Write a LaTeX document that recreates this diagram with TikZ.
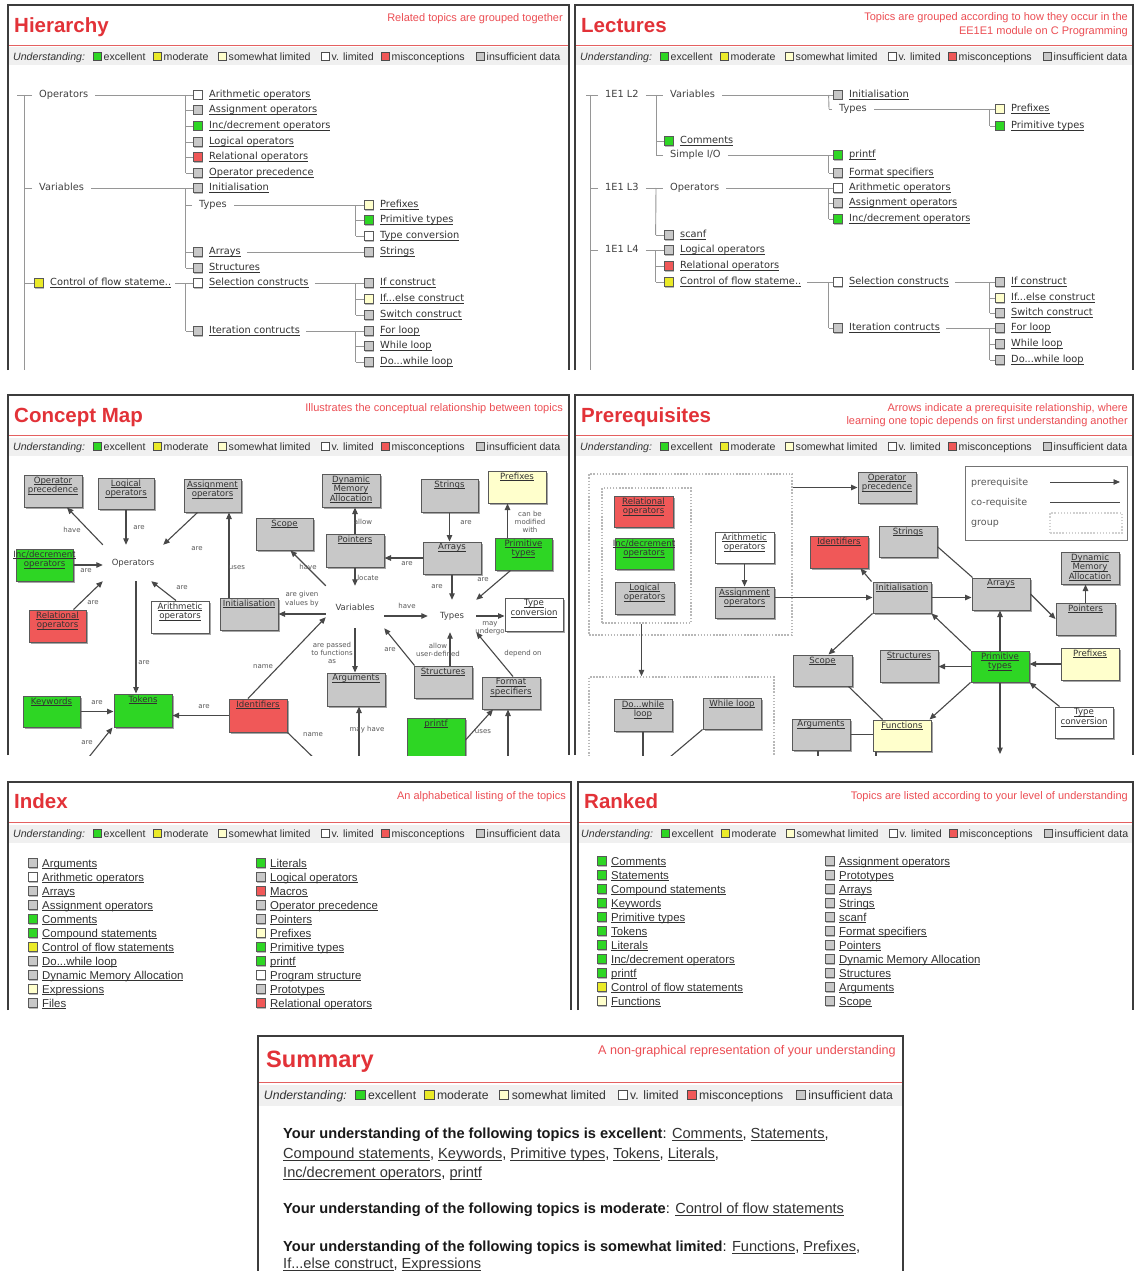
\documentclass[tikz,border=0pt]{standalone}
\usepackage{fontspec}
\setmainfont{Liberation Sans}
\newfontfamily\dvfont{DejaVu Sans}
\usetikzlibrary{arrows.meta,fit}

\definecolor{cgreen}{RGB}{46,214,36}
\definecolor{cyellow}{RGB}{234,234,40}
\definecolor{clight}{RGB}{255,255,204}
\definecolor{cred}{RGB}{240,88,88}
\definecolor{cgray}{RGB}{200,200,200}
\definecolor{titlec}{RGB}{226,50,56}
\definecolor{subc}{RGB}{236,78,84}
\definecolor{rulec}{RGB}{228,96,96}
\definecolor{bandc}{RGB}{240,240,240}
\definecolor{framec}{RGB}{60,60,60}
\definecolor{linkc}{RGB}{50,50,50}
\definecolor{treec}{RGB}{150,150,150}
\definecolor{edgec}{RGB}{72,72,72}

% underlined link text
\newcommand\lk[1]{{\leavevmode\setbox0\hbox{#1}\rlap{\rule[-0.17em]{\wd0}{0.06em}}\box0}}
\newcommand\slk[1]{{\color{linkc}\lk{#1}}}

\tikzset{
  panelline/.style={draw=framec, line width=2pt},
  ttl/.style={anchor=base west, inner sep=0pt, text=titlec, font=\fontsize{20.5}{22}\selectfont\bfseries},
  subt/.style={anchor=base east, inner sep=0pt, text=subc, font=\fontsize{11}{13}\selectfont},
  redrule/.style={draw=rulec, line width=1.6pt},
  lgtext/.style={anchor=base west, inner sep=0pt, text=black!80},
  lgbox/.style={draw=black!70, line width=0.7pt, inner sep=0pt},
  tbox/.style={draw=black!65, line width=0.8pt, inner sep=0pt, minimum size=9pt},
  titem/.style={anchor=base west, inner sep=0pt, text=linkc, text height=7.3pt, text depth=1.7pt, font=\dvfont\fontsize{9.8}{11}\selectfont},
  tword/.style={anchor=base west, inner xsep=7pt, inner ysep=0pt, text=black!75, text height=7.3pt, text depth=1.7pt, font=\dvfont\fontsize{9.8}{11}\selectfont},
  tline/.style={draw=treec, line width=0.9pt},
  litem/.style={anchor=base west, inner sep=0pt, text=linkc, font=\fontsize{11.4}{13}\selectfont},
  cbx/.style={rectangle, draw=black!65, line width=1pt, inner sep=0pt},
  cbl/.style={anchor=north, inner sep=0pt, text=linkc, align=center, font=\dvfont\fontsize{8.6}{9.6}\selectfont},
  cword/.style={inner sep=0pt, text=black!75, font=\dvfont\fontsize{8.5}{10}\selectfont},
  carr/.style={draw=edgec, line width=1.1pt, -{Triangle[length=6.5pt,width=5.5pt]}},
  cline/.style={draw=edgec, line width=1.1pt},
  elab/.style={inner sep=0pt, text=black!65, align=center, font=\dvfont\fontsize{7}{8.2}\selectfont},
  grp/.style={draw=black!28, line width=1.5pt, dash pattern=on 1.5pt off 1.6pt, inner sep=0pt},
  plab/.style={anchor=base west, inner sep=0pt, text=black!65, font=\dvfont\fontsize{9.5}{11}\selectfont},
  sumt/.style={anchor=base west, inner sep=0pt, text=black!90, font=\fontsize{14.6}{17}\selectfont},
}

% frame, red rule and legend band of a panel: left, right, top, bottom, scale
\newcommand\panelframe[5]{%
  \fill[bandc] (#1+1,{#3+42.5*#5}) rectangle (#2-1,{#3+60.5*#5});
  \draw[redrule] (#1+1,{#3+40.5*#5}) -- (#2-1,{#3+40.5*#5});
  \draw[panelline] (#1,#4) -- (#1,#3) -- (#2,#3) -- (#2,#4);
}
% legend row: name prefix, panel left, row, scale, font size
\newcommand\legendrow[5]{%
  \node[lgtext, font=\fontsize{#5}{#5}\selectfont\itshape] (#1u) at ({#2+5*#4},{#3+3.6*#4}) {Understanding:};
  \foreach \bo/\cc/\lab [count=\k] in {85/cgreen/excellent,145/cyellow/moderate,210/clight/somewhat limited,313/white/v. limited,373/cred/misconceptions,468/cgray/insufficient data}{
    \node[lgbox, fill=\cc, minimum size={8pt*#4}] (#1b\k) at ({#2+(\bo+4)*#4},#3) {};
    \node[lgtext, font=\fontsize{#5}{#5}\selectfont] (#1t\k) at ({#2+(\bo+10.5)*#4},{#3+3.6*#4}) {\lab};
  }
}
% tree entry with status box: name, box left, row, fill, label
\newcommand\tbx[5]{%
  \fill[black!28] (#2+1,#3-3.5) rectangle (#2+10,#3+5.5);
  \node[tbox, fill=#4] (#1) at (#2+4.5,#3) {};
  \node[titem] (#1-t) at (#2+16,#3+2.8) {\lk{#5}};
}
\newcommand\trtick[2]{\draw[tline] (#1.west) -- ++(-#2,0);}
% list entry: name, box left, row, fill, label
\newcommand\lsitem[5]{%
  \fill[black!28] (#2+1,#3-3.5) rectangle (#2+10,#3+5.5);
  \node[tbox, fill=#4] (#1) at (#2+4.5,#3) {};
  \node[litem] (#1-t) at (#2+14,#3+4) {\lk{#5}};
}
% concept box: name, x1, y1, x2, y2, fill, label
\newcommand\conbox[7]{%
  \fill[black!35] (#2+1.5,#3+1.5) rectangle (#4+1.5,#5+1.5);
  \path (#2,#3) coordinate (#1-a) (#4,#5) coordinate (#1-b);
  \node[cbx, fill=#6, fit=(#1-a)(#1-b)] (#1) {};
  \node[cbl] (#1-t) at ([yshift=-2pt]#1.north) {#7};
}

\begin{document}
\begin{tikzpicture}[x=1pt,y=-1pt]
\fill[white] (0,0) rectangle (1134,1271);
\useasboundingbox (0,0) rectangle (1134,1271);

%% ================= Hierarchy =================
\panelframe{8}{569}{5}{370}{1}
\node[ttl] (hTitle) at (14,33) {Hierarchy};
\node[subt] (hSub) at (563,22) {Related topics are grouped together};
\legendrow{hLg}{8}{56.5}{1}{10.6}

\node[tword] (hOps) at (32,97.8) {Operators};
\node[tword] (hVar) at (32,190.8) {Variables};
\tbx{hCtl}{34}{283}{cyellow}{Control of flow stateme..}
\draw[tline] (hOps.west) -- ++(-15,0);
\draw[tline] ([xshift=-8pt]hOps.west) -- ++(0,275);
\trtick{hVar}{8}
\trtick{hCtl}{10}

\tbx{hArith}{193}{95}{white}{Arithmetic operators}
\tbx{hAssign}{193}{110}{cgray}{Assignment operators}
\tbx{hInc}{193}{126}{cgreen}{Inc/decrement operators}
\tbx{hLogic}{193}{142}{cgray}{Logical operators}
\tbx{hRel}{193}{157}{cred}{Relational operators}
\tbx{hPrec}{193}{173}{cgray}{Operator precedence}
\draw[tline] (hOps.east) -- (hArith.west);
\draw[tline] ([xshift=-7pt]hArith.west) -- ([xshift=-7pt]hPrec.west);
\foreach \n in {hAssign,hInc,hLogic,hRel,hPrec} {\trtick{\n}{7}}

\tbx{hInit}{193}{188}{cgray}{Initialisation}
\node[tword] (hTypes) at (192,207.8) {Types};
\tbx{hArr}{193}{252}{cgray}{Arrays}
\tbx{hStruct}{193}{268}{cgray}{Structures}
\draw[tline] (hVar.east) -- (hInit.west);
\draw[tline] ([xshift=-7pt]hInit.west) -- ([xshift=-7pt]hStruct.west);
\trtick{hTypes}{6}
\trtick{hArr}{7}
\trtick{hStruct}{7}

\tbx{hPref}{364}{205}{clight}{Prefixes}
\tbx{hPrim}{364}{220}{cgreen}{Primitive types}
\tbx{hTconv}{364}{236}{white}{Type conversion}
\draw[tline] (hTypes.east) -- (hPref.west);
\draw[tline] ([xshift=-8pt]hPref.west) -- ([xshift=-8pt]hTconv.west);
\trtick{hPrim}{8}
\trtick{hTconv}{8}
\tbx{hStr}{364}{252}{cgray}{Strings}
\draw[tline] ([xshift=6pt]hArr-t.east) -- (hStr.west);

\tbx{hSel}{193}{283}{white}{Selection constructs}
\tbx{hIter}{193}{331}{cgray}{Iteration contructs}
\draw[tline] ([xshift=4pt]hCtl-t.east) -- (hSel.west);
\draw[tline] ([xshift=-7pt]hSel.west) -- ([xshift=-7pt]hIter.west);
\trtick{hIter}{7}
\tbx{hIf}{364}{283}{cgray}{If construct}
\tbx{hIfElse}{364}{299}{clight}{If...else construct}
\tbx{hSwitch}{364}{315}{cgray}{Switch construct}
\draw[tline] ([xshift=6pt]hSel-t.east) -- (hIf.west);
\draw[tline] ([xshift=-8pt]hIf.west) -- ([xshift=-8pt]hSwitch.west);
\trtick{hIfElse}{8}
\trtick{hSwitch}{8}
\tbx{hFor}{364}{331}{cgray}{For loop}
\tbx{hWhile}{364}{346}{cgray}{While loop}
\tbx{hDo}{364}{362}{cgray}{Do...while loop}
\draw[tline] ([xshift=6pt]hIter-t.east) -- (hFor.west);
\draw[tline] ([xshift=-8pt]hFor.west) -- ([xshift=-8pt]hDo.west);
\trtick{hWhile}{8}
\trtick{hDo}{8}

%% ================= Lectures =================
\panelframe{575}{1133}{5}{370}{1}
\node[ttl] (lTitle) at (581,33) {Lectures};
\node[subt] (lSub1) at (1128,21) {Topics are grouped according to how they occur in the};
\node[subt] (lSub2) at (1128,35) {EE1E1 module on C Programming};
\legendrow{lLg}{575}{56.5}{1}{10.6}

\node[tword] (lL2) at (598,97.8) {1E1 L2};
\node[tword] (lL3) at (598,190.8) {1E1 L3};
\node[tword] (lL4) at (598,252.8) {1E1 L4};
\draw[tline] (lL2.west) -- ++(-12,0);
\draw[tline] ([xshift=-8pt]lL2.west) -- ++(0,275);
\trtick{lL3}{8}
\trtick{lL4}{8}

\node[tword] (lVar) at (663,97.8) {Variables};
\tbx{lCom}{664}{141}{cgreen}{Comments}
\node[tword] (lSio) at (663,157.8) {Simple I/O};
\draw[tline] (lL2.east) -- (lVar.west);
\draw[tline] ([xshift=-7pt]lVar.west) -- ([xshift=-7pt]lSio.west);
\trtick{lCom}{8}
\trtick{lSio}{7}
\tbx{lInit}{833}{95}{cgray}{Initialisation}
\node[tword] (lTypes) at (832,111.8) {Types};
\draw[tline] (lVar.east) -- (lInit.west);
\draw[tline] ([xshift=-4pt]lInit.west) -- ([xshift=-3pt]lTypes.west);
\trtick{lTypes}{3}
\tbx{lPref}{995}{109}{clight}{Prefixes}
\tbx{lPrim}{995}{126}{cgreen}{Primitive types}
\draw[tline] (lTypes.east) -- (lPref.west);
\draw[tline] ([xshift=-5pt]lPref.west) -- ([xshift=-5pt]lPrim.west);
\trtick{lPrim}{5}
\tbx{lPrintf}{833}{155}{cgreen}{printf}
\tbx{lFmt}{833}{173}{cgray}{Format specifiers}
\draw[tline] (lSio.east) -- (lPrintf.west);
\draw[tline] ([xshift=-4pt]lPrintf.west) -- ([xshift=-4pt]lFmt.west);
\trtick{lFmt}{4}

\node[tword] (lOps) at (663,190.8) {Operators};
\tbx{lScanf}{664}{235}{cgray}{scanf}
\draw[tline] (lL3.east) -- (lOps.west);
\draw[tline] ([xshift=-7pt]lOps.west) -- ([xshift=-8pt]lScanf.west);
\trtick{lScanf}{8}
\tbx{lArith}{833}{188}{white}{Arithmetic operators}
\tbx{lAssign}{833}{203}{cgray}{Assignment operators}
\tbx{lInc}{833}{219}{cgreen}{Inc/decrement operators}
\draw[tline] (lOps.east) -- (lArith.west);
\draw[tline] ([xshift=-4pt]lArith.west) -- ([xshift=-4pt]lInc.west);
\trtick{lAssign}{4}
\trtick{lInc}{4}

\tbx{lLogic}{664}{250}{cgray}{Logical operators}
\tbx{lRel}{664}{266}{cred}{Relational operators}
\tbx{lCtl}{664}{282}{cyellow}{Control of flow stateme..}
\draw[tline] (lL4.east) -- (lLogic.west);
\draw[tline] ([xshift=-8pt]lLogic.west) -- ([xshift=-8pt]lCtl.west);
\trtick{lRel}{8}
\trtick{lCtl}{8}
\tbx{lSel}{833}{282}{white}{Selection constructs}
\tbx{lIter}{833}{328}{cgray}{Iteration contructs}
\draw[tline] ([xshift=6pt]lCtl-t.east) -- (lSel.west);
\draw[tline] ([xshift=-4pt]lSel.west) -- ([xshift=-4pt]lIter.west);
\trtick{lIter}{4}
\tbx{lIf}{995}{282}{cgray}{If construct}
\tbx{lIfElse}{995}{298}{clight}{If...else construct}
\tbx{lSwitch}{995}{313}{cgray}{Switch construct}
\draw[tline] ([xshift=6pt]lSel-t.east) -- (lIf.west);
\draw[tline] ([xshift=-5pt]lIf.west) -- ([xshift=-5pt]lSwitch.west);
\trtick{lIfElse}{5}
\trtick{lSwitch}{5}
\tbx{lFor}{995}{328}{cgray}{For loop}
\tbx{lWhile}{995}{344}{cgray}{While loop}
\tbx{lDo}{995}{360}{cgray}{Do...while loop}
\draw[tline] ([xshift=6pt]lIter-t.east) -- (lFor.west);
\draw[tline] ([xshift=-5pt]lFor.west) -- ([xshift=-5pt]lDo.west);
\trtick{lWhile}{5}
\trtick{lDo}{5}

%% ================= Concept Map =================
\panelframe{8}{569}{395}{755}{1}
\node[ttl] (cTitle) at (14,422.5) {Concept Map};
\node[subt] (cSub) at (563,411) {Illustrates the conceptual relationship between topics};
\legendrow{cLg}{8}{446.5}{1}{10.6}

\begin{scope}
\clip (9,456) rectangle (568,755);
\conbox{cmOpPrec}{24}{475}{82}{507}{cgray}{\lk{Operator}\\\lk{precedence}}
\conbox{cmLogic}{98}{478}{154}{509}{cgray}{\lk{Logical}\\\lk{operators}}
\conbox{cmAssign}{184}{479}{241}{512}{cgray}{\lk{Assignment}\\\lk{operators}}
\conbox{cmScope}{256}{518}{313}{550}{cgray}{\lk{Scope}}
\conbox{cmIncDec}{16}{549}{73}{581}{cgreen}{\lk{Inc/decrement}\\\lk{operators}}
\conbox{cmRel}{29}{610}{86}{642}{cred}{\lk{Relational}\\\lk{operators}}
\conbox{cmArith}{151}{601}{209}{633}{white}{\lk{Arithmetic}\\\lk{operators}}
\conbox{cmInit}{220}{598}{278}{630}{cgray}{\lk{Initialisation}}
\conbox{cmKey}{23}{696}{80}{727}{cgreen}{\lk{Keywords}}
\conbox{cmTok}{114}{694}{172}{727}{cgreen}{\lk{Tokens}}
\conbox{cmIdent}{229}{699}{287}{732}{cred}{\lk{Identifiers}}
\conbox{cmDMA}{322}{474}{380}{507}{cgray}{\lk{Dynamic}\\\lk{Memory}\\\lk{Allocation}}
\conbox{cmStr}{421}{479}{478}{512}{cgray}{\lk{Strings}}
\conbox{cmPref}{488}{471}{546}{503}{clight}{\lk{Prefixes}}
\conbox{cmPtr}{326}{534}{384}{567}{cgray}{\lk{Pointers}}
\conbox{cmArr}{423}{542}{481}{574}{cgray}{\lk{Arrays}}
\conbox{cmPrim}{495}{538}{552}{570}{cgreen}{\lk{Primitive}\\\lk{types}}
\conbox{cmTconv}{505}{598}{563}{631}{white}{\lk{Type}\\\lk{conversion}}
\conbox{cmArgs}{327}{673}{385}{706}{cgray}{\lk{Arguments}}
\conbox{cmStruct}{414}{666}{472}{698}{cgray}{\lk{Structures}}
\conbox{cmFmt}{482}{677}{540}{709}{cgray}{\lk{Format}\\\lk{specifiers}}
\conbox{cmPrintf}{407}{718}{465}{762}{cgreen}{\lk{printf}}
\node[cword, minimum width=60pt, minimum height=36pt] (cmOps) at (133,563) {Operators};
\node[cword, minimum width=58pt, minimum height=42pt] (cmVar) at (355,607) {Variables};
\node[cword, minimum width=48pt, minimum height=32pt] (cmTypes) at (452,616) {Types};
\coordinate (cmOffA) at (85,762);
\coordinate (cmOffB) at (318,762);
\coordinate (cmOffC) at (359,762);
\coordinate (cmOffD) at (508,762);
\coordinate (cmU) at ([xshift=-20pt]cmInit.north);
\coordinate (cmW) at ([xshift=-16pt]cmPrim.north);
\coordinate (cmX) at ([xshift=7pt]cmStruct.north);
\coordinate (cmY) at ([xshift=3pt]cmOps.south);

\draw[carr] (cmOps.north west) -- ([xshift=14pt]cmOpPrec.south);
\draw[carr] (cmLogic.south) -- (cmLogic.south |- cmOps.north);
\draw[carr] ([xshift=14pt]cmAssign.south west) -- (cmOps.north east);
\draw[carr] (cmIncDec.east) -- (cmIncDec.east -| cmOps.west);
\draw[carr] ([xshift=16pt]cmRel.north) -- (cmOps.south west);
\draw[carr] ([xshift=-4pt]cmArith.north) -- ([xshift=-12pt]cmOps.south east);
\draw[carr] (cmY) -- (cmY |- cmTok.north);
\draw[carr] (cmKey.east) -- (cmKey.east -| cmTok.west);
\draw[carr] (cmIdent.west) -- (cmIdent.west -| cmTok.east);
\draw[carr] (cmOffA) -- ([xshift=-1pt]cmTok.south west);
\draw[carr] (cmU) -- (cmU |- cmAssign.south);
\draw[carr] ([xshift=-10pt]cmIdent.north) -- ([yshift=11pt]cmVar.south west);
\draw[cline] (cmIdent.south east) -- (cmOffB);
\draw[carr] (cmVar.north west) -- ([xshift=-23pt]cmScope.south east);
\draw[carr] (cmVar.west |- cmInit.east) -- (cmInit.east);
\draw[carr] (cmPtr.south) -- (cmPtr.south |- cmVar.north);
\draw[carr] (cmPtr.north) -- (cmPtr.north |- cmDMA.south);
\draw[carr] (cmArr.west) -- (cmArr.west -| cmPtr.east);
\draw[carr] (cmStr.south) -- (cmStr.south |- cmArr.north);
\draw[carr] (cmArr.south) -- (cmArr.south |- cmTypes.north);
\draw[carr] ([xshift=-13pt]cmPrim.south) -- (cmTypes.north east);
\draw[carr] (cmW) -- (cmW |- cmPref.south);
\draw[carr] (cmTypes.west -| cmVar.east) -- (cmTypes.west);
\draw[carr] (cmTypes.east) -- (cmTypes.east -| cmTconv.west);
\draw[carr] (cmVar.south) -- (cmVar.south |- cmArgs.north);
\draw[carr] ([xshift=1pt]cmStruct.north west) -- (cmVar.south east);
\draw[carr] (cmX) -- (cmX |- cmTypes.south);
\draw[carr] ([xshift=2pt]cmFmt.north) -- (cmTypes.south east);
\draw[carr] (cmOffC) -- (cmOffC |- cmArgs.south);
\draw[carr] (cmPrintf.east) -- ([xshift=-18pt]cmFmt.south);
\draw[carr] (cmOffD) -- (cmOffD |- cmFmt.south);

\node[elab] (cmE1) at (72,530) {have};
\node[elab] (cmE2) at (139,528) {are};
\node[elab] (cmE3) at (197,549) {are};
\node[elab] (cmE4) at (86,571) {are};
\node[elab] (cmE5) at (93,603) {are};
\node[elab] (cmE6) at (182,588) {are};
\node[elab] (cmE7) at (144,663) {are};
\node[elab] (cmE8) at (97,703) {are};
\node[elab] (cmE9) at (204,707) {are};
\node[elab] (cmE10) at (87,743) {are};
\node[elab] (cmE11) at (237,568) {uses};
\node[elab] (cmE12) at (263,667) {name};
\node[elab] (cmE13) at (313,735) {name};
\node[elab] (cmE14) at (308,567) {have};
\node[elab] (cmE15) at (302,599) {are given\\values by};
\node[elab] (cmE16) at (368,578) {locate};
\node[elab] (cmE17) at (363,522) {allow};
\node[elab] (cmE18) at (407,564) {are};
\node[elab] (cmE19) at (466,523) {are};
\node[elab] (cmE20) at (437,587) {are};
\node[elab] (cmE21) at (483,580) {are};
\node[elab] (cmE22) at (530,522) {can be\\modified\\with};
\node[elab] (cmE23) at (407,606) {have};
\node[elab] (cmE24) at (490,628) {may\\undergo};
\node[elab] (cmE25) at (332,653) {are passed\\to functions\\as};
\node[elab] (cmE26) at (390,650) {are};
\node[elab] (cmE27) at (438,650) {allow\\user-defined};
\node[elab] (cmE28) at (523,654) {depend on};
\node[elab] (cmE29) at (367,730) {may have};
\node[elab] (cmE30) at (483,732) {uses};
\end{scope}

%% ================= Prerequisites =================
\panelframe{575}{1133}{395}{755}{1}
\node[ttl] (pTitle) at (581,422.5) {Prerequisites};
\node[subt] (pSub1) at (1128,411.5) {Arrows indicate a prerequisite relationship, where};
\node[subt] (pSub2) at (1128,424.5) {learning one topic depends on first understanding another};
\legendrow{pLg}{575}{446.5}{1}{10.6}

\begin{scope}
\clip (576,456) rectangle (1132,755);
\path (589,474) coordinate (prOa) (792,635) coordinate (prOb);
\node[grp, fit=(prOa)(prOb)] (prGrpOuter) {};
\path (602,488) coordinate (prIa) (691,623) coordinate (prIb);
\node[grp, fit=(prIa)(prIb)] (prGrpInner) {};
\path (589,677) coordinate (prLa) (774,790) coordinate (prLb);
\node[grp, fit=(prLa)(prLb)] (prGrpLoop) {};
\conbox{prRel}{614}{496}{673}{527}{cred}{\lk{Relational}\\\lk{operators}}
\conbox{prInc}{615}{538}{673}{569}{cgreen}{\lk{Inc/decrement}\\\lk{operators}}
\conbox{prLog}{615}{582}{674}{614}{cgray}{\lk{Logical}\\\lk{operators}}
\conbox{prArith}{715}{532}{774}{563}{white}{\lk{Arithmetic}\\\lk{operators}}
\conbox{prAssign}{715}{587}{774}{618}{cgray}{\lk{Assignment}\\\lk{operators}}
\conbox{prOpPrec}{858}{472}{916}{503}{cgray}{\lk{Operator}\\\lk{precedence}}
\conbox{prIdent}{810}{536}{868}{568}{cred}{\lk{Identifiers}}
\conbox{prStr}{879}{526}{937}{557}{cgray}{\lk{Strings}}
\conbox{prInit}{873}{582}{931}{613}{cgray}{\lk{Initialisation}}
\conbox{prArr}{972}{578}{1030}{610}{cgray}{\lk{Arrays}}
\conbox{prDMA}{1061}{552}{1119}{584}{cgray}{\lk{Dynamic}\\\lk{Memory}\\\lk{Allocation}}
\conbox{prPtr}{1056}{603}{1115}{635}{cgray}{\lk{Pointers}}
\conbox{prScope}{793}{655}{852}{686}{cgray}{\lk{Scope}}
\conbox{prStruct}{880}{650}{938}{682}{cgray}{\lk{Structures}}
\conbox{prPrim}{971}{651}{1029}{682}{cgreen}{\lk{Primitive}\\\lk{types}}
\conbox{prPref}{1061}{648}{1119}{680}{clight}{\lk{Prefixes}}
\conbox{prTconv}{1055}{707}{1113}{738}{white}{\lk{Type}\\\lk{conversion}}
\conbox{prArgs}{792}{719}{850}{750}{cgray}{\lk{Arguments}}
\conbox{prFunc}{873}{720}{931}{751}{clight}{\lk{Functions}}
\conbox{prDo}{614}{699}{672}{731}{cgray}{\lk{Do...while}\\\lk{loop}}
\conbox{prWhile}{703}{698}{761}{729}{cgray}{\lk{While loop}}
\coordinate (prOffA) at (1000,754);
\coordinate (prOffB) at (643,765);
\coordinate (prOffC) at (670,757);
\coordinate (prOffD) at (818,765);
\coordinate (prOffE) at (876,765);
\coordinate (prQ) at ([xshift=-5pt]prGrpInner.south);

\draw[carr] (prOpPrec.west -| prGrpOuter.east) -- (prOpPrec.west);
\draw[carr] (prArith.south) -- (prAssign.north);
\draw[carr] (prQ) -- (prQ |- prGrpLoop.north);
\draw[carr] (prInit.west -| prAssign.east) -- (prInit.west);
\draw[carr] ([xshift=-1pt]prInit.north west) -- ([xshift=-8pt]prIdent.south east);
\draw[cline] (prStr.-10) -- ([xshift=1pt]prArr.north west);
\draw[carr] (prInit.east) -- (prInit.east -| prArr.west);
\draw[carr] (prInit.south west) -- ([xshift=6pt]prScope.north);
\draw[carr] (prPrim.west) -- (prPrim.west -| prStruct.east);
\draw[carr] (prPrim.north west) -- (prInit.south east);
\draw[carr] (prPrim.north) -- (prPrim.north |- prArr.south);
\draw[carr] (prPrim.south west) -- ([xshift=-2pt]prFunc.north east);
\draw[cline] ([xshift=-4pt]prScope.south east) -- ([xshift=10pt]prFunc.north west);
\draw[cline] (prArgs.east) -- (prArgs.east -| prFunc.west);
\draw[carr] (prArr.east) -- (prPtr.west);
\draw[carr] (prPtr.north) -- (prPtr.north |- prDMA.south);
\draw[carr] (prPref.west) -- (prPref.west -| prPrim.east);
\draw[carr] ([xshift=5pt]prTconv.north west) -- (prPrim.south east);
\draw[carr] (prPrim.south) -- (prOffA);
\draw[cline] (prDo.south) -- (prOffB);
\draw[cline] (prWhile.south west) -- (prOffC);
\draw[cline] (prArgs.south -| prOffD) -- (prOffD);
\draw[cline] (prFunc.south -| prOffE) -- (prOffE);

% key to the line styles
\path (965,466) coordinate (prKa) (1127,540) coordinate (prKb);
\node[draw=black!55, line width=1pt, inner sep=0pt, fill=white, fit=(prKa)(prKb)] (prKey) {};
\node[plab] (prKt1) at (971,485.5) {prerequisite};
\node[plab] (prKt2) at (971,505.5) {co-requisite};
\node[plab] (prKt3) at (971,525.5) {group};
\coordinate (prKp1) at (1050,482);
\coordinate (prKp2) at (1120,482);
\draw[carr, line width=0.9pt] (prKp1) -- (prKp2);
\coordinate (prKc1) at (1050,502);
\coordinate (prKc2) at (1120,502);
\draw[cline, line width=0.9pt] (prKc1) -- (prKc2);
\path (1050,513) coordinate (prKg1) (1122,533) coordinate (prKg2);
\node[grp, draw=black!18, fit=(prKg1)(prKg2)] (prKg) {};
\end{scope}

%% ================= Index =================
\panelframe{8}{571}{782}{1010}{1}
\node[ttl] (iTitle) at (14,808.5) {Index};
\node[subt] (iSub) at (566,799) {An alphabetical listing of the topics};
\legendrow{iLg}{8}{833.5}{1}{10.6}
\foreach \cc/\lab [count=\k] in {cgray/Arguments, white/Arithmetic operators, cgray/Arrays, cgray/Assignment operators, cgreen/Comments, cgreen/Compound statements, cyellow/Control of flow statements, cgray/{Do...while loop}, cgray/Dynamic Memory Allocation, clight/Expressions, cgray/Files}
  {\lsitem{ixa\k}{28}{849+14*\k}{\cc}{\lab}}
\foreach \cc/\lab [count=\k] in {cgreen/Literals, cgray/Logical operators, cred/Macros, cgray/Operator precedence, cgray/Pointers, clight/Prefixes, cgreen/Primitive types, cgreen/printf, white/Program structure, cgray/Prototypes, cred/Relational operators}
  {\lsitem{ixb\k}{256}{849+14*\k}{\cc}{\lab}}

%% ================= Ranked =================
\panelframe{578}{1133}{782}{1010}{1}
\node[ttl] (rTitle) at (584,808.5) {Ranked};
\node[subt] (rSub) at (1128,799) {Topics are listed according to your level of understanding};
\legendrow{rLg}{576}{833.5}{1}{10.6}
\foreach \cc/\lab [count=\k] in {cgreen/Comments, cgreen/Statements, cgreen/Compound statements, cgreen/Keywords, cgreen/Primitive types, cgreen/Tokens, cgreen/Literals, cgreen/{Inc/decrement operators}, cgreen/printf, cyellow/Control of flow statements, clight/Functions}
  {\lsitem{rka\k}{597}{847+14*\k}{\cc}{\lab}}
\foreach \lab [count=\k] in {Assignment operators, Prototypes, Arrays, Strings, scanf, Format specifiers, Pointers, Dynamic Memory Allocation, Structures, Arguments, Scope}
  {\lsitem{rkb\k}{825}{847+14*\k}{cgray}{\lab}}

%% ================= Summary =================
\panelframe{258}{903}{1036}{1280}{1.15}
\node[ttl, font=\fontsize{23.6}{26}\selectfont\bfseries] (sTitle) at (266,1067.5) {Summary};
\node[subt, font=\fontsize{12.6}{14}\selectfont] (sSub) at (896,1054) {A non-graphical representation of your understanding};
\legendrow{sLg}{258}{1095.2}{1.15}{12.2}
\node[sumt] (sL1) at (283,1138) {\textbf{Your understanding of the following topics is excellent}: \slk{Comments}, \slk{Statements},};
\node[sumt] (sL2) at (283,1158) {\slk{Compound statements}, \slk{Keywords}, \slk{Primitive types}, \slk{Tokens}, \slk{Literals},};
\node[sumt] (sL3) at (283,1177) {\slk{Inc/decrement operators}, \slk{printf}};
\node[sumt] (sL4) at (283,1213) {\textbf{Your understanding of the following topics is moderate}: \slk{Control of flow statements}};
\node[sumt] (sL5) at (283,1251) {\textbf{Your understanding of the following topics is somewhat limited}: \slk{Functions}, \slk{Prefixes},};
\node[sumt] (sL6) at (283,1268) {\slk{If...else construct}, \slk{Expressions}};
\end{tikzpicture}
\end{document}
